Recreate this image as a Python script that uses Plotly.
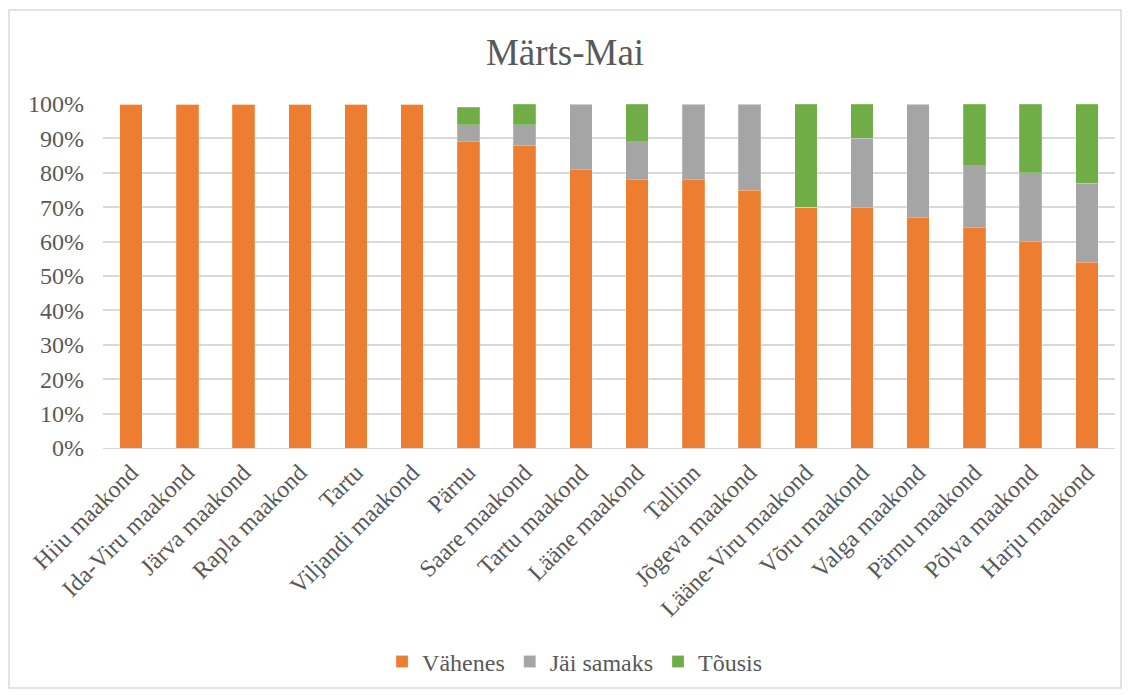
import plotly.graph_objects as go

categories = ["Hiiu maakond", "Ida-Viru maakond", "Järva maakond", "Rapla maakond", "Tartu",
              "Viljandi maakond", "Pärnu", "Saare maakond", "Tartu maakond", "Lääne maakond",
              "Tallinn", "Jõgeva maakond", "Lääne-Viru maakond", "Võru maakond", "Valga maakond",
              "Pärnu maakond", "Põlva maakond", "Harju maakond"]
vaheneb = [100, 100, 100, 100, 100, 100, 89, 88, 81, 78, 78, 75, 70, 70, 67, 64, 60, 54]
samaks = [0, 0, 0, 0, 0, 0, 5, 6, 19, 11, 22, 25, 0, 20, 33, 18, 20, 23]
tousis = [0, 0, 0, 0, 0, 0, 5, 6, 0, 11, 0, 0, 30, 10, 0, 18, 20, 23]

series = [("Vähenes", vaheneb, "#ED7D31"), ("Jäi samaks", samaks, "#A5A5A5"), ("Tõusis", tousis, "#70AD47")]

font = "Liberation Serif, Times New Roman, serif"
W, H = 1114, 682
L, T, PW, PH = 95, 96, 1012, 344

fig = go.Figure()
for name, vals, col in series:
    fig.add_trace(go.Bar(x=categories, y=[v / 100 for v in vals], name=name,
                         marker=dict(color=col, line=dict(color="rgba(255,255,255,0.4)", width=0.5))))

fig.update_layout(
    barmode="stack", bargap=0.6,
    width=W, height=H,
    margin=dict(l=L, r=W - L - PW, t=T, b=H - T - PH, autoexpand=False),
    paper_bgcolor="white", plot_bgcolor="white",
    font=dict(family=font, color="#595959", size=24),
    title=dict(text="Märts-Mai", x=0.5, xanchor="center", y=1 - 44 / H, yanchor="middle",
               font=dict(size=37, color="#595959", family=font)),
    legend=dict(orientation="h", x=0.466, xanchor="center", y=(T + PH - 654) / PH, yanchor="middle",
                font=dict(size=24, color="#595959", family=font), traceorder="normal",
                itemwidth=30),
    xaxis=dict(tickangle=-45, showgrid=False, linecolor="#d9d9d9", showline=True, automargin=False,
               tickfont=dict(size=24, color="#595959", family=font)),
    yaxis=dict(range=[0, 1], tickformat=".0%", dtick=0.1, gridcolor="#d9d9d9", gridwidth=1.5,
               zeroline=False, tickfont=dict(size=24, color="#595959", family=font), ticklen=0,
               ticks="", automargin=False, ticklabelstandoff=18),
    shapes=[dict(type="rect", xref="paper", yref="paper",
                 x0=(1 - L) / PW, x1=(W - 1 - L) / PW,
                 y0=(T + PH - (H - 2)) / PH, y1=(T + PH - 2) / PH,
                 line=dict(color="#d9d9d9", width=1.5), fillcolor="rgba(0,0,0,0)", layer="below")],
)

fig.write_html("out.html")
